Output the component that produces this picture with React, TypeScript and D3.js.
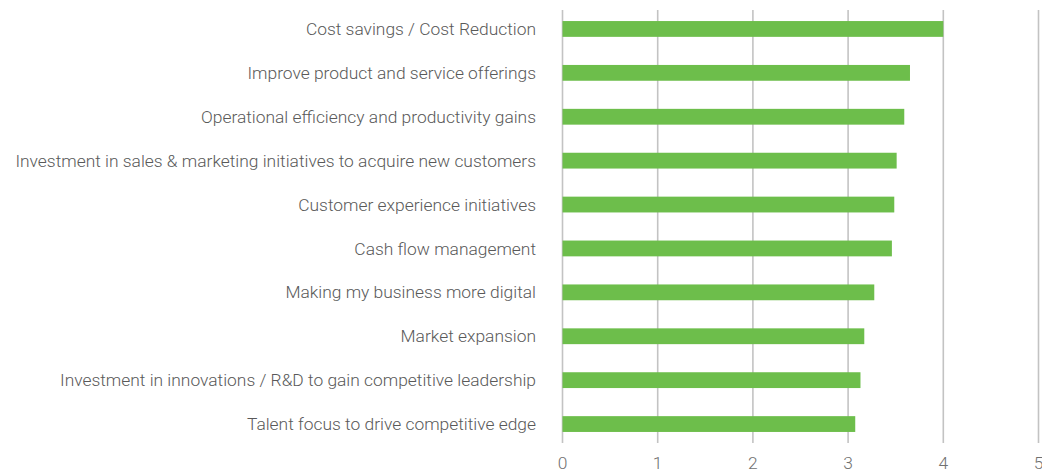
import React from "react";
import * as d3 from "d3";

const categories = [
  "Cost savings / Cost Reduction",
  "Improve product and service offerings",
  "Operational efficiency and productivity gains",
  "Investment in sales & marketing initiatives to acquire new customers",
  "Customer experience initiatives",
  "Cash flow management",
  "Making my business more digital",
  "Market expansion",
  "Investment in innovations / R&D to gain competitive leadership",
  "Talent focus to drive competitive edge",
];
const values = [4.0, 3.65, 3.59, 3.51, 3.485, 3.46, 3.275, 3.17, 3.13, 3.075];
const ticks = [0, 1, 2, 3, 4, 5];

const W = 1042;
const H = 473;

export default function App() {
  const x = d3.scaleLinear().domain([0, 5]).range([562.5, 1038.5]);
  const y = d3.scaleBand<string>().domain(categories).range([7, 446]).paddingInner(0.64).paddingOuter(0.32);
  const font = "Roboto, 'Helvetica Neue', Arial, sans-serif";
  return (
    <svg width={W} height={H} style={{ position: "absolute", left: 0, top: 0 }}>
      <rect width={W} height={H} fill="#fff" />
      {ticks.map((t) => (
        <g key={t}>
          <line x1={x(t)} x2={x(t)} y1={10} y2={443} stroke="#c3c3c3" strokeWidth={1.6} />
          <text x={x(t)} y={469} textAnchor="middle" fontFamily={font} fontWeight={300} fontSize={17.4} fill="#707070">
            {t}
          </text>
        </g>
      ))}
      {categories.map((c, i) => (
        <g key={c}>
          <rect x={x(0)} y={y(c)!} width={x(values[i]) - x(0)} height={y.bandwidth()} fill="#6dbe4b" />
          <text
            x={536}
            y={y(c)! + y.bandwidth() / 2}
            dy="0.35em"
            textAnchor="end"
            fontFamily={font}
            fontWeight={300}
            fontSize={17.4}
            fill="#595959"
          >
            {c}
          </text>
        </g>
      ))}
    </svg>
  );
}
